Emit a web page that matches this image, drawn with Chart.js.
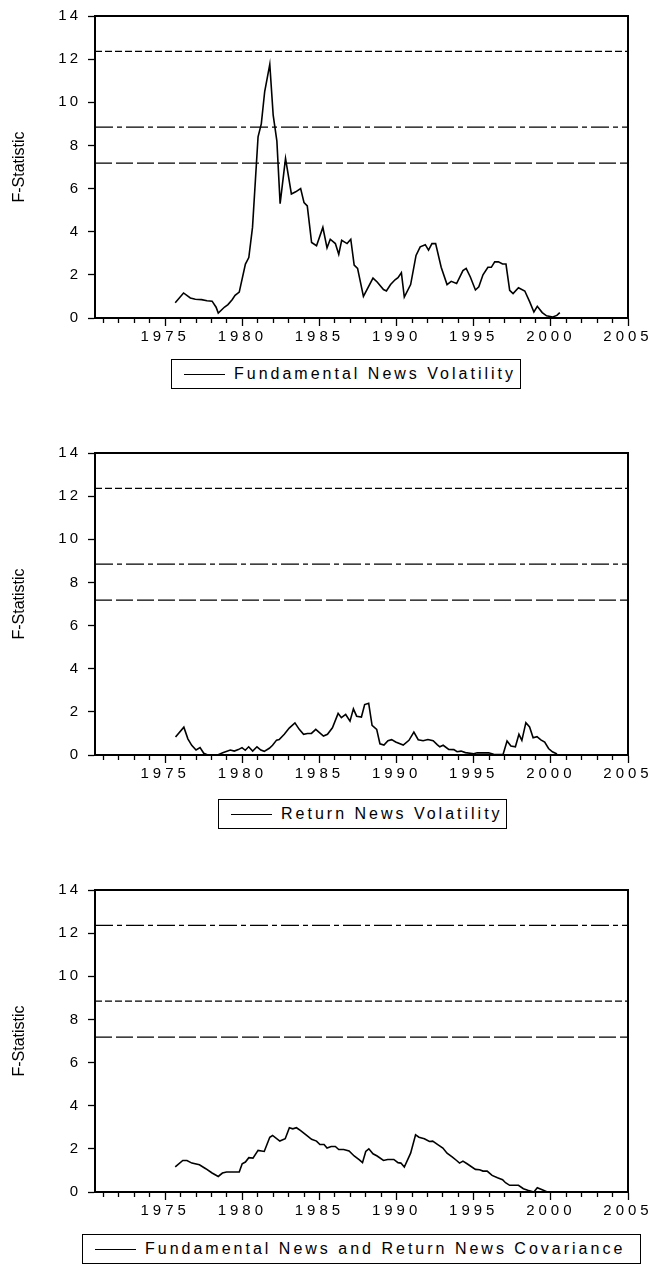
<!DOCTYPE html>
<html>
<head>
<meta charset="utf-8">
<script src="https://cdn.jsdelivr.net/npm/chart.js@4/dist/chart.umd.min.js"></script>
<style>
  html, body { margin: 0; padding: 0; background: #fff; }
  #page { position: relative; width: 650px; height: 1266px; overflow: hidden; background: #fff; }
  canvas { position: absolute; left: 0; }
  .lg { position: absolute; box-sizing: border-box; border: 1px solid #000; display: flex; align-items: center;
        padding-left: 12px; font-family: "Liberation Sans", Arial, sans-serif; font-size: 16px; letter-spacing: 3px; color: #000; white-space: nowrap; }
  .lg .ln { display: inline-block; width: 41px; height: 0; border-top: 1.5px solid #000; margin-right: 9px; }
</style>
</head>
<body>
<div id="page">
  <canvas id="c1" width="650" height="345" style="top:0px"></canvas>
  <div class="lg" style="left:171px;top:359px;width:350px;height:30px"><span class="ln"></span><span>Fundamental News Volatility</span></div>
  <canvas id="c2" width="650" height="345" style="top:437px"></canvas>
  <div class="lg" style="left:218px;top:799px;width:289px;height:30px"><span class="ln"></span><span>Return News Volatility</span></div>
  <canvas id="c3" width="650" height="345" style="top:874px"></canvas>
  <div class="lg" style="left:82px;top:1234px;width:559px;height:30px"><span class="ln"></span><span>Fundamental News and Return News Covariance</span></div>
</div>
<script>
// ---- data ----
const X_MIN = 1970.45, X_MAX = 2005;
const YEAR_LABELS = [1975, 1980, 1985, 1990, 1995, 2000, 2005];
const critValues = [12.36, 8.85, 7.18];

const fundX = [1975.65,1976.19,1976.63,1976.95,1977.36,1977.71,1978.04,1978.3,1978.44,1978.85,1979.07,1979.34,1979.53,1979.8,1980.2,1980.42,1980.66,1981.02,1981.23,1981.45,1981.78,1982.0,1982.24,1982.45,1982.8,1983.18,1983.46,1983.78,1984.0,1984.21,1984.49,1984.81,1985.22,1985.49,1985.7,1986.03,1986.25,1986.44,1986.79,1987.03,1987.25,1987.47,1987.85,1988.47,1988.74,1989.15,1989.34,1989.61,1989.9,1990.09,1990.31,1990.5,1990.91,1991.26,1991.53,1991.86,1992.07,1992.29,1992.53,1992.89,1993.27,1993.54,1993.89,1994.3,1994.51,1994.78,1995.11,1995.33,1995.6,1995.92,1996.14,1996.36,1996.6,1996.87,1997.09,1997.33,1997.55,1997.9,1998.31,1998.63,1998.9,1999.12,1999.44,1999.72,2000.12,2000.39,2000.58];
const fundY = [0.71,1.16,0.93,0.87,0.85,0.8,0.78,0.5,0.23,0.51,0.62,0.85,1.05,1.2,2.5,2.8,4.2,8.4,9.0,10.5,11.76,9.4,8.2,5.3,7.4,5.75,5.85,6.0,5.35,5.2,3.5,3.35,4.2,3.25,3.65,3.45,2.95,3.6,3.45,3.65,2.45,2.3,1.0,1.85,1.67,1.32,1.25,1.55,1.77,1.87,2.1,0.97,1.55,2.9,3.3,3.4,3.15,3.45,3.45,2.35,1.55,1.7,1.6,2.2,2.3,1.9,1.3,1.45,2.0,2.35,2.35,2.6,2.6,2.5,2.5,1.28,1.13,1.4,1.25,0.75,0.28,0.54,0.25,0.1,0.05,0.12,0.25];

const retX = [1975.67,1976.21,1976.47,1976.72,1977.0,1977.26,1977.5,1977.76,1978.08,1978.4,1978.73,1979.22,1979.48,1979.74,1979.98,1980.19,1980.41,1980.67,1980.95,1981.2,1981.42,1981.75,1981.96,1982.22,1982.39,1982.72,1983.04,1983.41,1983.69,1983.97,1984.22,1984.48,1984.76,1985.02,1985.26,1985.52,1985.84,1986.21,1986.42,1986.7,1986.98,1987.2,1987.41,1987.72,1987.93,1988.19,1988.41,1988.71,1988.92,1989.18,1989.44,1989.68,1989.94,1990.43,1990.8,1991.12,1991.4,1991.72,1992.03,1992.37,1992.63,1992.8,1993.02,1993.38,1993.71,1993.92,1994.18,1994.46,1995.0,1995.22,1995.97,1996.29,1996.9,1997.16,1997.41,1997.7,1997.93,1998.12,1998.38,1998.62,1998.85,1999.1,1999.35,1999.6,1999.85,2000.1,2000.4];
const retY = [0.83,1.29,0.75,0.45,0.23,0.34,0.08,0.0,0.0,0.0,0.1,0.23,0.18,0.25,0.34,0.22,0.38,0.18,0.38,0.23,0.17,0.31,0.45,0.69,0.72,0.96,1.25,1.49,1.19,0.96,1.0,1.0,1.19,1.03,0.88,0.96,1.26,1.93,1.73,1.88,1.57,2.14,1.8,1.76,2.34,2.4,1.37,1.19,0.52,0.46,0.66,0.71,0.6,0.46,0.68,1.06,0.71,0.66,0.72,0.66,0.48,0.38,0.45,0.26,0.25,0.15,0.18,0.11,0.06,0.1,0.1,0.03,0.02,0.65,0.42,0.38,0.96,0.68,1.5,1.3,0.8,0.85,0.7,0.6,0.3,0.15,0.05];

const covX = [1975.65,1976.14,1976.41,1976.73,1977.22,1977.63,1978.04,1978.44,1978.71,1978.98,1979.8,1979.99,1980.2,1980.42,1980.69,1981.02,1981.42,1981.78,1981.96,1982.43,1982.78,1983.05,1983.27,1983.51,1983.78,1984.13,1984.49,1984.81,1985.03,1985.3,1985.49,1985.76,1986.03,1986.25,1986.57,1986.92,1987.25,1987.57,1987.79,1988.0,1988.2,1988.47,1988.74,1989.15,1989.42,1989.82,1990.09,1990.28,1990.5,1990.91,1991.23,1991.45,1991.8,1992.13,1992.34,1992.67,1993.0,1993.27,1993.62,1993.89,1994.08,1994.3,1994.57,1995.11,1995.38,1995.6,1995.87,1996.19,1996.54,1996.87,1997.06,1997.33,1997.9,1998.22,1998.5,1998.9,1999.12,1999.44,1999.77,2000.58];
const covY = [1.16,1.46,1.46,1.34,1.26,1.08,0.88,0.72,0.88,0.93,0.93,1.31,1.39,1.59,1.57,1.93,1.88,2.54,2.62,2.36,2.47,2.98,2.93,2.98,2.85,2.65,2.44,2.36,2.2,2.2,2.04,2.11,2.11,1.97,1.97,1.9,1.67,1.5,1.36,1.88,2.0,1.77,1.67,1.46,1.51,1.51,1.36,1.34,1.16,1.8,2.65,2.54,2.47,2.34,2.36,2.2,2.04,1.8,1.62,1.46,1.34,1.43,1.31,1.05,1.03,0.97,0.97,0.77,0.66,0.57,0.43,0.31,0.31,0.15,0.08,0.0,0.2,0.1,0.0,0.0];

// ---- styling ----
const FONT = '"Liberation Sans", Arial, sans-serif';
const SHORT = [7, 3], DASHDOT = [18, 4, 5, 4], LONG = [17, 4];

const framePlugin = {
  id: 'frame',
  afterDraw(chart) {
    const { ctx, chartArea: a } = chart;
    ctx.save();
    ctx.strokeStyle = '#000';
    ctx.lineWidth = 2;
    ctx.strokeRect(a.left, a.top, a.right - a.left, a.bottom - a.top);
    ctx.restore();
  }
};

const spacingPlugin = {
  id: 'spacing',
  beforeDraw(chart) {
    for (const id of ['x', 'y']) {
      const s = chart.scales[id];
      if (!s || s._lsPatched) continue;
      const ls = id === 'x' ? '4px' : '3px';
      const origLabels = s.drawLabels;
      s.drawLabels = function (area) {
        const c = this.ctx; c.save();
        try { c.letterSpacing = ls; } catch (e) {}
        origLabels.call(this, area); c.restore();
      };
      const origTitle = s.drawTitle;
      s.drawTitle = function () {
        const c = this.ctx; c.save();
        try { c.letterSpacing = '0px'; } catch (e) {}
        origTitle.call(this); c.restore();
      };
      s._lsPatched = true;
    }
  }
};

function build(id, xs, ys, dashes) {
  const series = xs.map((x, i) => ({ x: x, y: ys[i] }));
  const refs = critValues.map((v, k) => ({
    data: [{ x: X_MIN, y: v }, { x: X_MAX, y: v }],
    borderColor: '#000', borderWidth: 1.2, borderDash: dashes[k],
    pointRadius: 0, fill: false
  }));
  new Chart(document.getElementById(id), {
    type: 'line',
    data: { datasets: [...refs, { data: series, borderColor: '#000', borderWidth: 1.6, pointRadius: 0, tension: 0, fill: false }] },
    options: {
      responsive: false, animation: false, events: [],
      layout: { padding: { top: 15, right: 22, left: 0, bottom: 0 } },
      plugins: { legend: { display: false }, tooltip: { enabled: false } },
      scales: {
        x: {
          type: 'linear', min: X_MIN, max: X_MAX,
          afterFit(s) { s.height = 27; },
          ticks: {
            stepSize: 1, includeBounds: false, autoSkip: false, maxRotation: 0, minRotation: 0,
            padding: 2, color: '#000', font: { family: FONT, size: 15 },
            callback: v => YEAR_LABELS.includes(v) ? String(v) : ''
          },
          grid: {
            drawOnChartArea: false, drawTicks: true, tickLength: 8, tickColor: '#000', tickWidth: 1.3,
            tickBorderDash: c => (c.tick && YEAR_LABELS.includes(c.tick.value)) ? [] : [4, 20]
          },
          border: { display: true, color: '#000', width: 2 }
        },
        y: {
          min: 0, max: 14,
          afterFit(s) { s.width = 95; },
          ticks: { stepSize: 2, padding: 7, color: '#000', font: { family: FONT, size: 15 } },
          grid: { drawOnChartArea: false, tickLength: 7, tickColor: '#000', tickWidth: 1.3 },
          border: { display: true, color: '#000', width: 2 },
          title: { display: true, text: 'F-Statistic', color: '#000', font: { family: FONT, size: 16 }, padding: { top: 10, bottom: 0 } }
        }
      }
    },
    plugins: [framePlugin, spacingPlugin]
  });
}

build('c1', fundX, fundY, [SHORT, DASHDOT, LONG]);
build('c2', retX, retY, [SHORT, DASHDOT, LONG]);
build('c3', covX, covY, [DASHDOT, SHORT, LONG]);
</script>
</body>
</html>
